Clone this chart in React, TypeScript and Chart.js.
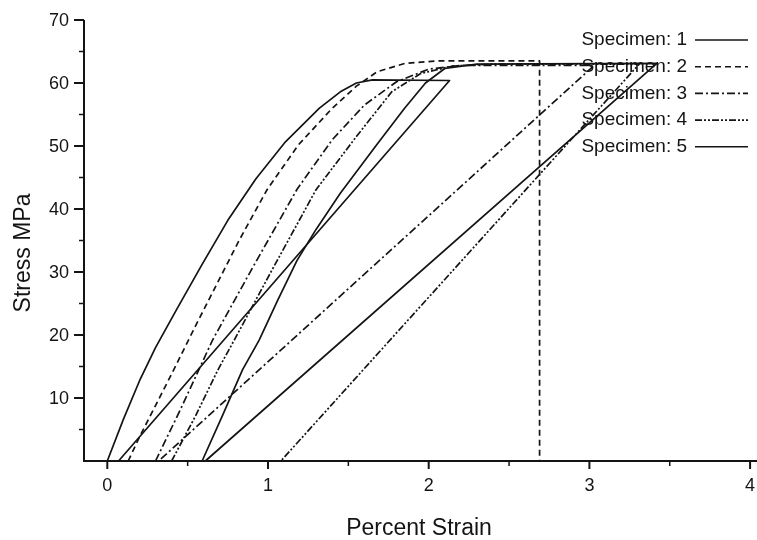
import React, { useEffect, useRef } from 'react';
import { Chart, registerables } from 'chart.js';

Chart.register(...registerables);

// ---- data (Percent Strain, Stress MPa) ----
const specimenLabels = ['Specimen: 1', 'Specimen: 2', 'Specimen: 3', 'Specimen: 4', 'Specimen: 5'];

const spec1Strain = [0, 0.1, 0.2, 0.3, 0.43, 0.59, 0.75, 0.925, 1.11, 1.32, 1.45, 1.55, 1.65, 2.13, 0.07];
const spec1Stress = [0, 6.6, 12.7, 18.0, 24.0, 31.2, 38.2, 44.8, 50.7, 56.0, 58.6, 60.0, 60.5, 60.4, 0];

const spec2Strain = [0.13, 0.2, 0.3, 0.41, 0.55, 0.68, 0.82, 0.995, 1.19, 1.4, 1.55, 1.68, 1.85, 2.05, 2.69, 2.69];
const spec2Stress = [0, 3.8, 8.8, 14.3, 21.5, 28.0, 35.0, 43.1, 50.2, 56.0, 59.5, 61.8, 63.1, 63.5, 63.5, 0];

const spec3Strain = [0.3, 0.45, 0.655, 0.9, 1.18, 1.4, 1.6, 1.8, 2.0, 2.2, 3.03, 0.32];
const spec3Stress = [0, 7.9, 19.2, 30.5, 43.1, 51.0, 56.5, 60.2, 62.2, 62.8, 62.8, 0];

const spec4Strain = [0.4, 0.55, 0.685, 0.79, 1.05, 1.3, 1.55, 1.77, 1.95, 2.15, 2.4, 3.31, 1.08];
const spec4Stress = [0, 7.2, 14.3, 19.2, 31.5, 43.1, 51.5, 58.6, 61.5, 62.7, 63.0, 63.0, 0];

const spec5Strain = [0.59, 0.72, 0.842, 0.945, 1.06, 1.18, 1.3, 1.45, 1.68, 1.85, 1.98, 2.1, 2.3, 3.42, 0.61];
const spec5Stress = [0, 7.4, 14.5, 19.2, 25.5, 31.8, 36.8, 42.5, 50.3, 56.0, 60.0, 62.3, 63.0, 63.1, 0];

const xTickValues = [0, 1, 2, 3, 4];
const xMinorTickValues = [0.5, 1.5, 2.5, 3.5];
const yTickValues = [10, 20, 30, 40, 50, 60, 70];
const yMinorTickValues = [5, 15, 25, 35, 45, 55, 65];

const xTitle = 'Percent Strain';
const yTitle = 'Stress MPa';

const INK = '#141414';
const FONT = "'Liberation Sans', Arial, Helvetica, sans-serif";
const dashes: number[][] = [[], [6, 4], [8, 3, 2, 3], [7, 2, 2, 2, 2, 2], []];

const toPoints = (xs: number[], ys: number[]) => xs.map((x, i) => ({ x, y: ys[i] }));

const decorPlugin = {
  id: 'decor',
  afterDraw(chart: any) {
    const { ctx, scales } = chart;
    const xs = scales.x;
    const ys = scales.y;
    const area = chart.chartArea;
    ctx.save();
    ctx.strokeStyle = INK;
    ctx.fillStyle = INK;

    // axis lines
    ctx.lineWidth = 2;
    ctx.beginPath();
    ctx.moveTo(area.left, area.top);
    ctx.lineTo(area.left, area.bottom);
    ctx.lineTo(area.right, area.bottom);
    ctx.stroke();

    // y ticks
    ctx.lineWidth = 2;
    yTickValues.forEach((v) => {
      const py = ys.getPixelForValue(v);
      ctx.beginPath();
      ctx.moveTo(area.left - 10, py);
      ctx.lineTo(area.left, py);
      ctx.stroke();
    });
    ctx.lineWidth = 1.5;
    yMinorTickValues.forEach((v) => {
      const py = ys.getPixelForValue(v);
      ctx.beginPath();
      ctx.moveTo(area.left - 5, py);
      ctx.lineTo(area.left, py);
      ctx.stroke();
    });
    // x ticks
    ctx.lineWidth = 2;
    xTickValues.forEach((v) => {
      const px = xs.getPixelForValue(v);
      ctx.beginPath();
      ctx.moveTo(px, area.bottom);
      ctx.lineTo(px, area.bottom + 8);
      ctx.stroke();
    });
    ctx.lineWidth = 1.5;
    xMinorTickValues.forEach((v) => {
      const px = xs.getPixelForValue(v);
      ctx.beginPath();
      ctx.moveTo(px, area.bottom);
      ctx.lineTo(px, area.bottom + 5);
      ctx.stroke();
    });

    // tick labels
    ctx.font = `18px ${FONT}`;
    ctx.textAlign = 'right';
    ctx.textBaseline = 'middle';
    yTickValues.forEach((v) => {
      ctx.fillText(String(v), area.left - 15, ys.getPixelForValue(v) + 1);
    });
    ctx.textAlign = 'center';
    xTickValues.forEach((v) => {
      ctx.fillText(String(v), xs.getPixelForValue(v), area.bottom + 25);
    });

    // titles
    ctx.font = `23px ${FONT}`;
    ctx.textAlign = 'center';
    ctx.textBaseline = 'alphabetic';
    ctx.fillText(xTitle, 419, 535);
    ctx.save();
    ctx.translate(30, 253);
    ctx.rotate(-Math.PI / 2);
    ctx.fillText(yTitle, 0, 0);
    ctx.restore();

    // legend (text then line sample)
    ctx.font = `19px ${FONT}`;
    ctx.textAlign = 'right';
    ctx.textBaseline = 'middle';
    specimenLabels.forEach((lab, i) => {
      const cy = 40 + i * 26.7;
      ctx.fillStyle = INK;
      ctx.fillText(lab, 687, cy);
      ctx.save();
      ctx.lineWidth = 1.6;
      ctx.setLineDash(dashes[i]);
      ctx.beginPath();
      ctx.moveTo(695, cy);
      ctx.lineTo(748, cy);
      ctx.stroke();
      ctx.restore();
    });
    ctx.restore();
  },
};

export default function App() {
  const ref = useRef<HTMLCanvasElement | null>(null);

  useEffect(() => {
    document.body.style.margin = '0';
    const canvas = ref.current;
    if (!canvas) return;
    const series = [
      toPoints(spec1Strain, spec1Stress),
      toPoints(spec2Strain, spec2Stress),
      toPoints(spec3Strain, spec3Stress),
      toPoints(spec4Strain, spec4Stress),
      toPoints(spec5Strain, spec5Stress),
    ];
    const chart = new Chart(canvas, {
      type: 'scatter',
      data: {
        datasets: series.map((data, i) => ({
          label: specimenLabels[i],
          data,
          showLine: true,
          borderColor: INK,
          borderWidth: 1.7,
          borderDash: dashes[i],
          pointRadius: 0,
          pointHoverRadius: 0,
          tension: 0,
          fill: false,
          clip: false as any,
          borderJoinStyle: 'round' as const,
        })),
      },
      options: {
        responsive: false,
        animation: false,
        events: [],
        layout: { padding: { top: 20, right: 0, bottom: 0, left: 0 } },
        plugins: { legend: { display: false }, tooltip: { enabled: false } },
        scales: {
          x: {
            type: 'linear',
            min: -0.145,
            max: 4.043,
            grid: { display: false },
            border: { display: false },
            ticks: { display: false },
            afterFit: (s: any) => { s.height = 79; },
          },
          y: {
            type: 'linear',
            min: 0,
            max: 70,
            grid: { display: false },
            border: { display: false },
            ticks: { display: false },
            afterFit: (s: any) => { s.width = 84; },
          },
        },
      },
      plugins: [decorPlugin],
    });
    return () => chart.destroy();
  }, []);

  return (
    <div style={{ width: 757, height: 540, background: '#fff' }}>
      <canvas ref={ref} width={757} height={540} style={{ display: 'block' }} />
    </div>
  );
}
